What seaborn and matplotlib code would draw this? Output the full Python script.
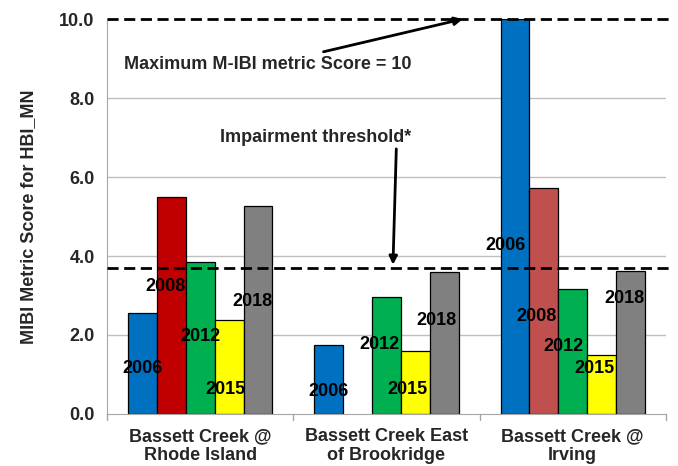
import numpy as np
import pandas as pd
import matplotlib
matplotlib.use('Agg')
import matplotlib.pyplot as plt
import seaborn as sns

# ---------------- data ----------------
sites = ['Bassett Creek @\nRhode Island',
         'Bassett Creek East\nof Brookridge',
         'Bassett Creek @\nIrving']
years = ['2006', '2008', '2012', '2015', '2018']
score_2006 = [2.55, 1.75, 10.0]
score_2008 = [5.50, np.nan, 5.71]
score_2012 = [3.84, 2.95, 3.16]
score_2015 = [2.38, 1.59, 1.49]
score_2018 = [5.27, 3.59, 3.63]
max_score = 10.0
threshold = 3.69
y_ticks = [0, 2, 4, 6, 8, 10]

# in-bar year label heights (layout)
label_y = {
    '2006': [1.16, 0.56, 4.26],
    '2008': [3.22, None, 2.46],
    '2012': [1.97, 1.76, 1.70],
    '2015': [0.61, 0.61, 1.16],
    '2018': [2.84, 2.36, 2.93],
}
label_dx = {'2006': [0.0, 0.0, -0.05], '2008': [-0.03, 0, -0.04],
            '2012': [0.0, -0.04, -0.05], '2015': [-0.02, -0.04, -0.04],
            '2018': [-0.03, -0.04, -0.03]}

values = {'2006': score_2006, '2008': score_2008, '2012': score_2012,
          '2015': score_2015, '2018': score_2018}
rows = []
for y in years:
    for s, v in zip(sites, values[y]):
        rows.append({'Site': s, 'Year': y, 'Score': v})
df = pd.DataFrame(rows)

palette = {'2006': '#0070C0', '2008': '#C00000', '2012': '#00B050',
           '2015': '#FFFF00', '2018': '#808080'}

# ---------------- plot ----------------
sns.set_style('white')
plt.rcParams['font.family'] = ['Liberation Sans', 'DejaVu Sans']
plt.rcParams['font.weight'] = 'bold'
FS = 13

fig = plt.figure(figsize=(6.78, 4.66), dpi=100)
ax = fig.add_axes([0.158, 0.1116, 0.824, 0.8476])

sns.barplot(data=df, x='Site', y='Score', hue='Year', hue_order=years,
            order=sites, palette=palette, width=0.775, dodge=True,
            edgecolor='black', linewidth=0.9, saturation=1, legend=False,
            ax=ax)

# the Irving 2008 bar is a lighter red
n_hue = len(years)
bar_w = 0.775 / n_hue
for patch in ax.patches:
    cx = patch.get_x() + patch.get_width() / 2
    if abs(cx - (2 - 0.775 / 2 + 1.5 * bar_w)) < 0.01:
        patch.set_facecolor('#C0504D')

# year labels inside bars
for k, y in enumerate(years):
    for i in range(len(sites)):
        if label_y[y][i] is None:
            continue
        x = i - 0.775 / 2 + (k + 0.5) * bar_w + label_dx[y][i]
        ax.text(x, label_y[y][i], y, ha='center', va='center',
                fontsize=FS, fontweight='bold', color='black')

ax.set_ylim(0, 10)
ax.set_xlim(-0.5, 2.5)
ax.set_yticks(y_ticks)
ax.set_yticklabels([f'{t:.1f}' for t in y_ticks], fontsize=FS,
                   fontweight='bold')
ax.set_xticks([0, 1, 2])
ax.set_xticklabels(sites, fontsize=FS, fontweight='bold', linespacing=1.15)
ax.tick_params(axis='x', length=0, pad=10)
ax.tick_params(axis='y', length=5, color='#A6A6A6', pad=4)
ax.set_xlabel('')
ax.set_ylabel('MIBI Metric Score for HBI_MN', fontsize=FS,
              fontweight='bold', labelpad=16)

# group divider ticks on the x axis
for xb in [-0.5, 0.5, 1.5, 2.5]:
    ax.plot([xb, xb], [0, -0.15], color='#A6A6A6', lw=1, clip_on=False)

for g in [2, 4, 6, 8]:
    ax.axhline(g, color='#BFBFBF', lw=1, zorder=0)

sns.despine(ax=ax, top=True, right=True)
ax.spines['left'].set_color('#A6A6A6')
ax.spines['bottom'].set_color('#A6A6A6')

# dashed reference lines
ax.plot([-0.5, 2.52], [max_score, max_score], color='black', lw=2,
        ls=(0, (4, 2)), clip_on=False, zorder=5)
ax.plot([-0.5, 2.52], [threshold, threshold], color='black', lw=2,
        ls=(0, (4, 2)), clip_on=False, zorder=5)

# annotations
ax.annotate('Maximum M-IBI metric Score = 10', xy=(1.41, 10.0),
            xytext=(0.364, 8.84), ha='center', va='center', fontsize=FS,
            fontweight='bold',
            arrowprops=dict(arrowstyle='-|>', color='black', lw=2,
                            shrinkA=4, shrinkB=0, mutation_scale=12))
ax.annotate('Impairment threshold*', xy=(1.035, 3.78),
            xytext=(0.622, 7.01), ha='center', va='center', fontsize=FS,
            fontweight='bold',
            arrowprops=dict(arrowstyle='-|>', color='black', lw=2,
                            shrinkA=0, shrinkB=0, mutation_scale=12,
                            relpos=(0.92, 0.0)))

fig.savefig('out.png', dpi=100)
